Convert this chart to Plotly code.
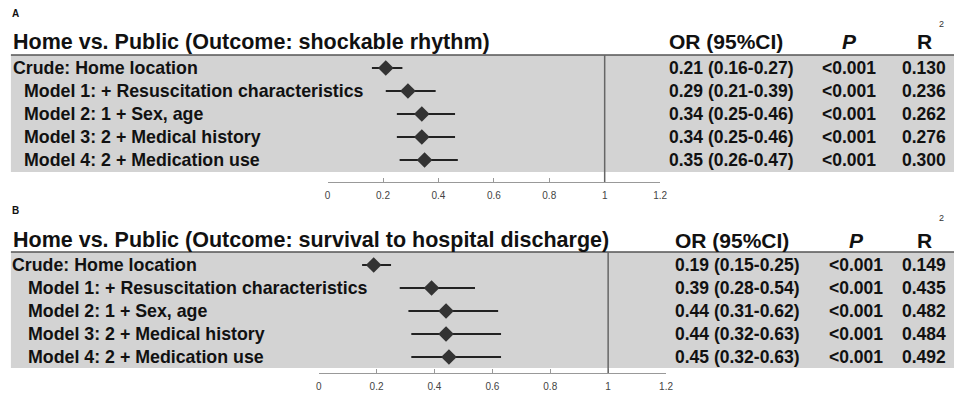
import plotly.graph_objects as go

W, H = 961, 397

# ---------------- data ----------------
row_labels = [
    "Crude: Home location",
    "Model 1: + Resuscitation characteristics",
    "Model 2: 1 + Sex, age",
    "Model 3: 2 + Medical history",
    "Model 4: 2 + Medication use",
]
titles = [
    "Home vs. Public (Outcome: shockable rhythm)",
    "Home vs. Public (Outcome: survival to hospital discharge)",
]
panel_letters = ["A", "B"]

or_a = [0.21, 0.29, 0.34, 0.34, 0.35]
lo_a = [0.16, 0.21, 0.25, 0.25, 0.26]
hi_a = [0.27, 0.39, 0.46, 0.46, 0.47]
p_a = ["<0.001", "<0.001", "<0.001", "<0.001", "<0.001"]
r2_a = ["0.130", "0.236", "0.262", "0.276", "0.300"]

or_b = [0.19, 0.39, 0.44, 0.44, 0.45]
lo_b = [0.15, 0.28, 0.31, 0.32, 0.32]
hi_b = [0.25, 0.54, 0.62, 0.63, 0.63]
p_b = ["<0.001", "<0.001", "<0.001", "<0.001", "<0.001"]
r2_b = ["0.149", "0.435", "0.482", "0.484", "0.492"]

tick_vals = [0, 0.2, 0.4, 0.6, 0.8, 1, 1.2]
tick_text = ["0", "0.2", "0.4", "0.6", "0.8", "1", "1.2"]
col_headers = ["OR (95%CI)", "P", "R"]

panels = [
    dict(orv=or_a, lo=lo_a, hi=hi_a, p=p_a, r2=r2_a),
    dict(orv=or_b, lo=lo_b, hi=hi_b, p=p_b, r2=r2_b),
]

# ---------------- layout geometry (pixels) ----------------
geo = [
    dict(letter_y=13, title_y=42, hline=55, gray_bot=172, row0=68, pitch=23,
         axis_y=182, x0px=328, x1px=664, crude_x=8, model_x=19,
         or_x=671, p_x=855, r_x=931, sup_x=948, sup_y=24),
    dict(letter_y=210, title_y=240, hline=252, gray_bot=368, row0=265, pitch=23,
         axis_y=373, x0px=319, x1px=670, crude_x=7, model_x=23,
         or_x=677, p_x=862, r_x=931, sup_x=948, sup_y=218),
]

FONT = "Liberation Sans, Arial, sans-serif"
px = lambda x: x / W
py = lambda y: 1 - y / H

fig = go.Figure()
shapes, annotations = [], []
layout_axes = {}

for k, (d, g) in enumerate(zip(panels, geo)):
    sfx = "" if k == 0 else str(k + 1)
    n = len(row_labels)
    idx = list(range(n))
    top_i = (g["hline"] - g["row0"]) / g["pitch"]
    bot_i = (g["axis_y"] - g["row0"]) / g["pitch"]

    shapes.append(dict(type="rect", xref="paper", yref="paper",
                       x0=px(8), x1=1, y0=py(g["gray_bot"]), y1=py(g["hline"]),
                       fillcolor="#d3d3d3", line=dict(width=0), layer="below"))
    shapes.append(dict(type="line", xref="paper", yref="paper",
                       x0=px(8), x1=1, y0=py(g["hline"]), y1=py(g["hline"]),
                       line=dict(color="#555555", width=1.5)))
    shapes.append(dict(type="line", xref="x" + sfx, yref="paper",
                       x0=1, x1=1, y0=py(g["axis_y"]), y1=py(g["hline"]),
                       line=dict(color="#666666", width=1.5)))

    fig.add_trace(go.Scatter(
        x=d["orv"], y=idx, mode="markers",
        xaxis="x" + sfx, yaxis="y" + sfx,
        marker=dict(symbol="diamond", size=12, color="#333333"),
        error_x=dict(type="data", symmetric=False,
                     array=[h - o for h, o in zip(d["hi"], d["orv"])],
                     arrayminus=[o - l for o, l in zip(d["orv"], d["lo"])],
                     width=0, thickness=2, color="#222222"),
        showlegend=False, hoverinfo="skip"))

    layout_axes["xaxis" + sfx] = dict(
        domain=[px(g["x0px"]), px(g["x1px"])], range=[0, 1.2],
        anchor="free", position=py(g["axis_y"]),
        tickvals=tick_vals, ticktext=tick_text,
        ticks="inside", ticklen=4, tickcolor="#999999",
        showline=True, linecolor="#999999", linewidth=1,
        showgrid=False, zeroline=False, fixedrange=True,
        tickfont=dict(family=FONT, size=10, color="#444444"),
        ticklabelstandoff=4)
    layout_axes["yaxis" + sfx] = dict(
        domain=[py(g["axis_y"]), py(g["hline"])], range=[bot_i, top_i],
        anchor="x" + sfx, visible=False, fixedrange=True)

    bold = dict(family=FONT, size=17.8, color="#111111", weight="bold")
    vbold = dict(family=FONT, size=17.5, color="#111111", weight="bold")
    hbold = dict(family=FONT, size=21, color="#111111", weight="bold")

    annotations.append(dict(text=panel_letters[k], xref="paper", yref="paper",
                            x=px(7), y=py(g["letter_y"]), xanchor="left", yanchor="middle",
                            showarrow=False, font=dict(family=FONT, size=10, color="#111111", weight="bold")))
    annotations.append(dict(text=titles[k], xref="paper", yref="paper",
                            x=px(8), y=py(g["title_y"]), xanchor="left", yanchor="middle",
                            showarrow=False, font=dict(family=FONT, size=21.5, color="#111111", weight="bold")))
    annotations.append(dict(text=col_headers[0], xref="paper", yref="paper",
                            x=px(g["or_x"]), y=py(g["title_y"]), xanchor="left", yanchor="middle",
                            showarrow=False, font=hbold))
    annotations.append(dict(text=col_headers[1], xref="paper", yref="paper",
                            x=px(g["p_x"]), y=py(g["title_y"]), xanchor="center", yanchor="middle",
                            showarrow=False, font=dict(hbold, style="italic")))
    annotations.append(dict(text=col_headers[2], xref="paper", yref="paper",
                            x=px(g["r_x"]), y=py(g["title_y"]), xanchor="center", yanchor="middle",
                            showarrow=False, font=hbold))
    annotations.append(dict(text="2", xref="paper", yref="paper",
                            x=px(g["sup_x"]), y=py(g["sup_y"]), xanchor="center", yanchor="middle",
                            showarrow=False, font=dict(family=FONT, size=9, color="#333333")))

    for i in idx:
        annotations.append(dict(text=row_labels[i], xref="paper", yref="y" + sfx,
                                x=px(g["crude_x"] if i == 0 else g["model_x"]), y=i,
                                xanchor="left", yanchor="middle", showarrow=False, font=bold))
        ci = f"{d['orv'][i]:.2f} ({d['lo'][i]:.2f}-{d['hi'][i]:.2f})"
        annotations.append(dict(text=ci, xref="paper", yref="y" + sfx,
                                x=px(g["or_x"]), y=i, xanchor="left", yanchor="middle",
                                showarrow=False, font=vbold))
        annotations.append(dict(text=d["p"][i], xref="paper", yref="y" + sfx,
                                x=px(g["p_x"]), y=i, xanchor="center", yanchor="middle",
                                showarrow=False, font=vbold))
        annotations.append(dict(text=d["r2"][i], xref="paper", yref="y" + sfx,
                                x=px(g["r_x"]), y=i, xanchor="center", yanchor="middle",
                                showarrow=False, font=vbold))

fig.update_layout(width=W, height=H, margin=dict(l=0, r=0, t=0, b=0),
                  paper_bgcolor="white", plot_bgcolor="rgba(0,0,0,0)",
                  shapes=shapes, annotations=annotations, **layout_axes)

fig.write_html(
    "out.html", config={"displayModeBar": False},
    post_script=("document.documentElement.style.margin='0';"
                 "document.documentElement.style.overflow='hidden';"
                 "document.body.style.margin='0';document.body.style.padding='0';"
                 "document.body.style.overflow='hidden';"))
